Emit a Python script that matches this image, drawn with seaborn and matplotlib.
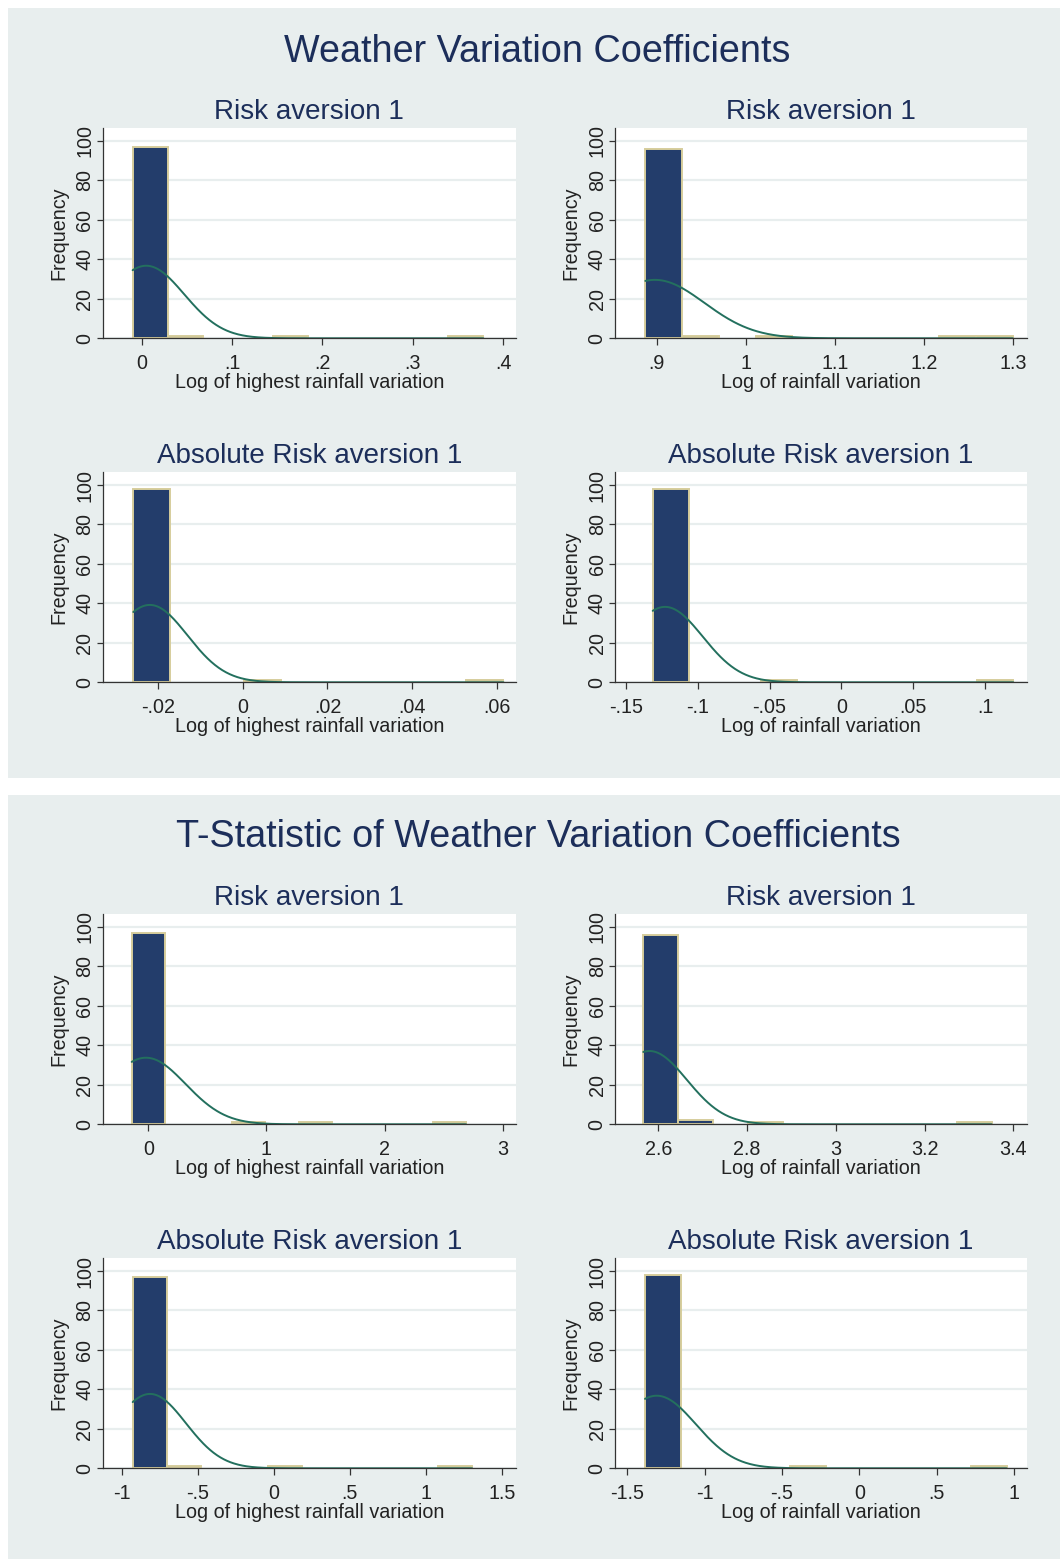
import numpy as np
import pandas as pd
import matplotlib
matplotlib.use("Agg")
import matplotlib.pyplot as plt
from matplotlib.patches import Rectangle
from matplotlib.ticker import FuncFormatter, FixedLocator
import seaborn as sns

# ---------------- data ----------------
fig_titles = ["Weather Variation Coefficients",
              "T-Statistic of Weather Variation Coefficients"]
panel_titles = ["Risk aversion 1", "Risk aversion 1",
                "Absolute Risk aversion 1", "Absolute Risk aversion 1",
                "Risk aversion 1", "Risk aversion 1",
                "Absolute Risk aversion 1", "Absolute Risk aversion 1"]
x_labels = ["Log of highest rainfall variation", "Log of rainfall variation"] * 4
y_label = "Frequency"

# histogram bins: first edge, bin width, counts per bin (10 bins)
bin_start = [-0.0100, 0.8873, -0.0259, -0.1314, -0.1405, 2.5662, -0.9276, -1.3856]
bin_width = [0.0388, 0.0412, 0.00875, 0.02511, 0.28305, 0.07851, 0.2233, 0.2338]
counts_p1 = [97, 1, 0, 0, 1, 0, 0, 0, 0, 1]
counts_p2 = [96, 1, 0, 1, 0, 0, 0, 0, 1, 1]
counts_p3 = [98, 0, 0, 1, 0, 0, 0, 0, 0, 1]
counts_p4 = [98, 0, 0, 1, 0, 0, 0, 0, 0, 1]
counts_p5 = [97, 0, 0, 1, 0, 1, 0, 0, 0, 1]
counts_p6 = [96, 2, 0, 1, 0, 0, 0, 0, 0, 1]
counts_p7 = [97, 1, 0, 0, 1, 0, 0, 0, 0, 1]
counts_p8 = [98, 0, 0, 0, 1, 0, 0, 0, 0, 1]
all_counts = [counts_p1, counts_p2, counts_p3, counts_p4,
              counts_p5, counts_p6, counts_p7, counts_p8]

# overlaid normal density: mean and standard deviation
normal_mean = [0.005, 0.898, -0.022, -0.1228, -0.02, 2.58, -0.8137, -1.31]
normal_sd = [0.0421, 0.0555, 0.0089, 0.0262, 0.335, 0.0844, 0.2363, 0.2535]

# axis ticks
xticks_all = [[0, .1, .2, .3, .4],
              [.9, 1, 1.1, 1.2, 1.3],
              [-.02, 0, .02, .04, .06],
              [-.15, -.1, -.05, 0, .05, .1],
              [0, 1, 2, 3],
              [2.6, 2.8, 3, 3.2, 3.4],
              [-1, -.5, 0, .5, 1, 1.5],
              [-1.5, -1, -.5, 0, .5, 1]]
yticks = [0, 20, 40, 60, 80, 100]

# ---------------- layout / style ----------------
xlims = [(-0.0431, 0.4141), (0.8533, 1.3148), (-0.03314, 0.06456), (-0.15766, 0.12904),
         (-0.386, 3.113), (2.5024, 3.4302), (-1.125, 1.594), (-1.5795, 1.0818)]
W, H = 1060, 1559
col_x = [(102.7, 516.0), (615.0, 1026.7)]
row_y = [(127.7, 338.3), (471.8, 682.3), (913.5, 1124.3), (1257.8, 1468.3)]

BG = "#E8EEEE"
NAVY = "#233D6B"
KHAKI = "#D6CD9C"
GREEN = "#23705E"
TITLE_C = "#1C2E5A"
TXT = "#222222"
GRID = "#E8EEEE"
FS = 14.2

sns.set_style("white")
plt.rcParams["font.family"] = ["Liberation Sans", "DejaVu Sans"]

fig = plt.figure(figsize=(W / 100, H / 100), dpi=100)
fig.patch.set_facecolor("white")

# panel backgrounds
for (y0, y1) in [(8, 777.5), (795, 1559)]:
    fig.patches.append(Rectangle((8 / W, 1 - y1 / H), (W - 8) / W, (y1 - y0) / H,
                                 transform=fig.transFigure, facecolor=BG,
                                 edgecolor="none", zorder=-5))

fig.text(537 / W, 1 - 62 / H, fig_titles[0], ha="center", va="baseline",
         fontsize=27.2, color=TITLE_C)
fig.text(538 / W, 1 - 847 / H, fig_titles[1], ha="center", va="baseline",
         fontsize=27.2, color=TITLE_C)


def stata_fmt(v, pos=None):
    s = f"{v:g}"
    if s.startswith("0."):
        s = s[1:]
    elif s.startswith("-0."):
        s = "-" + s[2:]
    return s


for i in range(8):
    r, c = divmod(i, 2)
    x0, x1 = col_x[c]
    yt, yb = row_y[r]
    ax = fig.add_axes([x0 / W, 1 - yb / H, (x1 - x0) / W, (yb - yt) / H])
    ax.set_zorder(1)
    ax.set_facecolor("white")

    edges = [bin_start[i] + bin_width[i] * k for k in range(11)]
    centers = [(edges[k] + edges[k + 1]) / 2 for k in range(10)]
    df = pd.DataFrame({"x": centers, "w": all_counts[i]})
    sns.histplot(data=df, x="x", weights="w", bins=edges, stat="count",
                 color=NAVY, edgecolor=KHAKI, linewidth=1.4, alpha=1, ax=ax)
    for p in ax.patches:
        if p.get_height() == 0:
            p.set_visible(False)

    n = sum(all_counts[i])
    xs = np.linspace(edges[0], edges[-1], 400)
    ys = n * bin_width[i] / (normal_sd[i] * np.sqrt(2 * np.pi)) * \
        np.exp(-0.5 * ((xs - normal_mean[i]) / normal_sd[i]) ** 2)
    sns.lineplot(x=xs, y=ys, color=GREEN, lw=1.4, ax=ax)

    ax.set_xlim(*xlims[i])
    ax.set_ylim(0, 106.7)
    ax.xaxis.set_major_locator(FixedLocator(xticks_all[i]))
    ax.xaxis.set_major_formatter(FuncFormatter(stata_fmt))
    ax.set_yticks(yticks)
    ax.yaxis.set_major_formatter(FuncFormatter(stata_fmt))
    ax.grid(axis="y", color=GRID, lw=1.6)
    ax.set_axisbelow(True)

    for s in ["top", "right"]:
        ax.spines[s].set_visible(False)
    for s in ["left", "bottom"]:
        ax.spines[s].set_color("#333333")
        ax.spines[s].set_linewidth(0.9)

    ax.tick_params(axis="x", direction="out", length=5, width=0.9, color="#333333",
                   labelsize=FS, labelcolor=TXT, pad=6.0, bottom=True)
    ax.tick_params(axis="y", direction="out", length=4.5, width=0.9, color="#333333",
                   labelsize=FS, labelcolor=TXT, pad=1.5, left=True,
                   labelrotation=90)
    for lab in ax.get_yticklabels():
        lab.set_va("center")

    ax.set_xlabel(x_labels[i], fontsize=FS, color=TXT, labelpad=0.3)
    ax.set_ylabel(y_label, fontsize=FS, color=TXT, labelpad=5.0)
    ax.set_title(panel_titles[i], fontsize=20, color=TITLE_C, pad=6.3)

fig.savefig("out.png", dpi=100, facecolor="white")
